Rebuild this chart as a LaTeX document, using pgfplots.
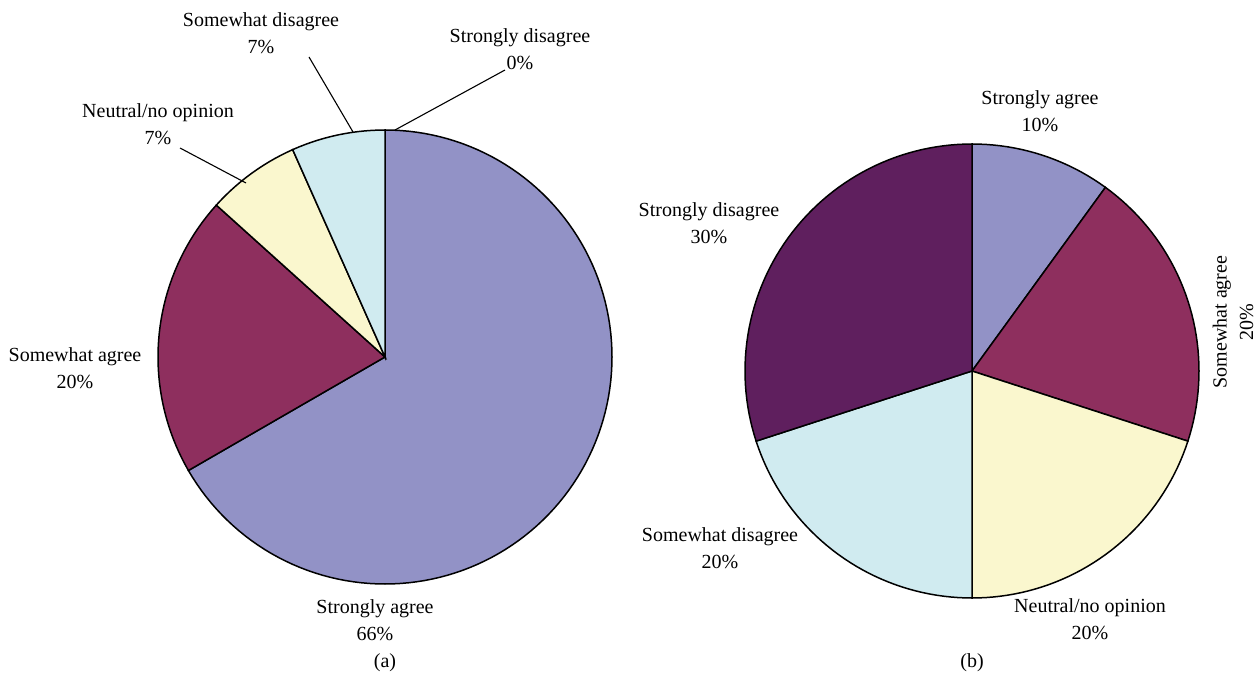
\documentclass[border=0pt]{standalone}
\usepackage{fontspec}
\setmainfont{Liberation Serif}
\usepackage{pgfplots}
\pgfplotsset{compat=1.18}
\definecolor{cSA}{HTML}{9292C6}
\definecolor{cWA}{HTML}{8E2F5E}
\definecolor{cNE}{HTML}{FAF7CE}
\definecolor{cWD}{HTML}{D0EBF0}
\definecolor{cSD}{HTML}{5F1F5E}
\tikzset{lbl/.style={font=\fontsize{20}{26.5}\selectfont, align=center, inner sep=0pt}}
\begin{document}
\begin{tikzpicture}
\begin{axis}[width=1258pt,height=686pt,scale only axis,
  xmin=0,xmax=1258,ymin=0,ymax=686,hide axis,clip=false]
\path (axis cs:0,0) rectangle (axis cs:1258,686);
% ---- (a): shares 66.7, 20, 6.7, 6.7, 0 % -> angles 240, 72, 24, 24, 0 deg
\addplot[draw=black, line width=1.5pt, fill=cSA, domain=90:-150, samples=121, variable=\t] ({385+227*cos(\t)},{329+227*sin(\t)}) -- (axis cs:385,329) -- cycle;
\addplot[draw=black, line width=1.5pt, fill=cWA, domain=210:138, samples=41, variable=\t] ({385+227*cos(\t)},{329+227*sin(\t)}) -- (axis cs:385,329) -- cycle;
\addplot[draw=black, line width=1.5pt, fill=cNE, domain=138:114, samples=15, variable=\t] ({385+227*cos(\t)},{329+227*sin(\t)}) -- (axis cs:385,329) -- cycle;
\addplot[draw=black, line width=1.5pt, fill=cWD, domain=114:90, samples=15, variable=\t] ({385+227*cos(\t)},{329+227*sin(\t)}) -- (axis cs:385,329) -- cycle;
\addplot[black, line width=1.1pt] coordinates {(180,538) (246,503)};
\addplot[black, line width=1.1pt] coordinates {(309,629) (353,554)};
\addplot[black, line width=1.1pt] coordinates {(505,616) (395,556)};
\node[lbl] at (axis cs:261,653) {Somewhat disagree\\7\%};
\node[lbl] at (axis cs:520,637) {Strongly disagree\\0\%};
\node[lbl] at (axis cs:158,562) {Neutral/no opinion\\7\%};
\node[lbl] at (axis cs:75,318) {Somewhat agree\\20\%};
\node[lbl] at (axis cs:375,66) {Strongly agree\\66\%};
\node[lbl] at (axis cs:385,23) {(a)};
% ---- (b): shares 10, 20, 20, 20, 30 %
\addplot[draw=black, line width=1.5pt, fill=cSA, domain=90:54, samples=21, variable=\t] ({972+227*cos(\t)},{315+227*sin(\t)}) -- (axis cs:972,315) -- cycle;
\addplot[draw=black, line width=1.5pt, fill=cWA, domain=54:-18, samples=41, variable=\t] ({972+227*cos(\t)},{315+227*sin(\t)}) -- (axis cs:972,315) -- cycle;
\addplot[draw=black, line width=1.5pt, fill=cNE, domain=-18:-90, samples=41, variable=\t] ({972+227*cos(\t)},{315+227*sin(\t)}) -- (axis cs:972,315) -- cycle;
\addplot[draw=black, line width=1.5pt, fill=cWD, domain=-90:-162, samples=41, variable=\t] ({972+227*cos(\t)},{315+227*sin(\t)}) -- (axis cs:972,315) -- cycle;
\addplot[draw=black, line width=1.5pt, fill=cSD, domain=-162:-270, samples=61, variable=\t] ({972+227*cos(\t)},{315+227*sin(\t)}) -- (axis cs:972,315) -- cycle;
\node[lbl] at (axis cs:1040,575) {Strongly agree\\10\%};
\node[lbl] at (axis cs:709,463) {Strongly disagree\\30\%};
\node[lbl, rotate=90] at (axis cs:1233,364) {Somewhat agree\\20\%};
\node[lbl] at (axis cs:720,138) {Somewhat disagree\\20\%};
\node[lbl] at (axis cs:1090,67) {Neutral/no opinion\\20\%};
\node[lbl] at (axis cs:972,23) {(b)};
\end{axis}
\end{tikzpicture}
\end{document}
